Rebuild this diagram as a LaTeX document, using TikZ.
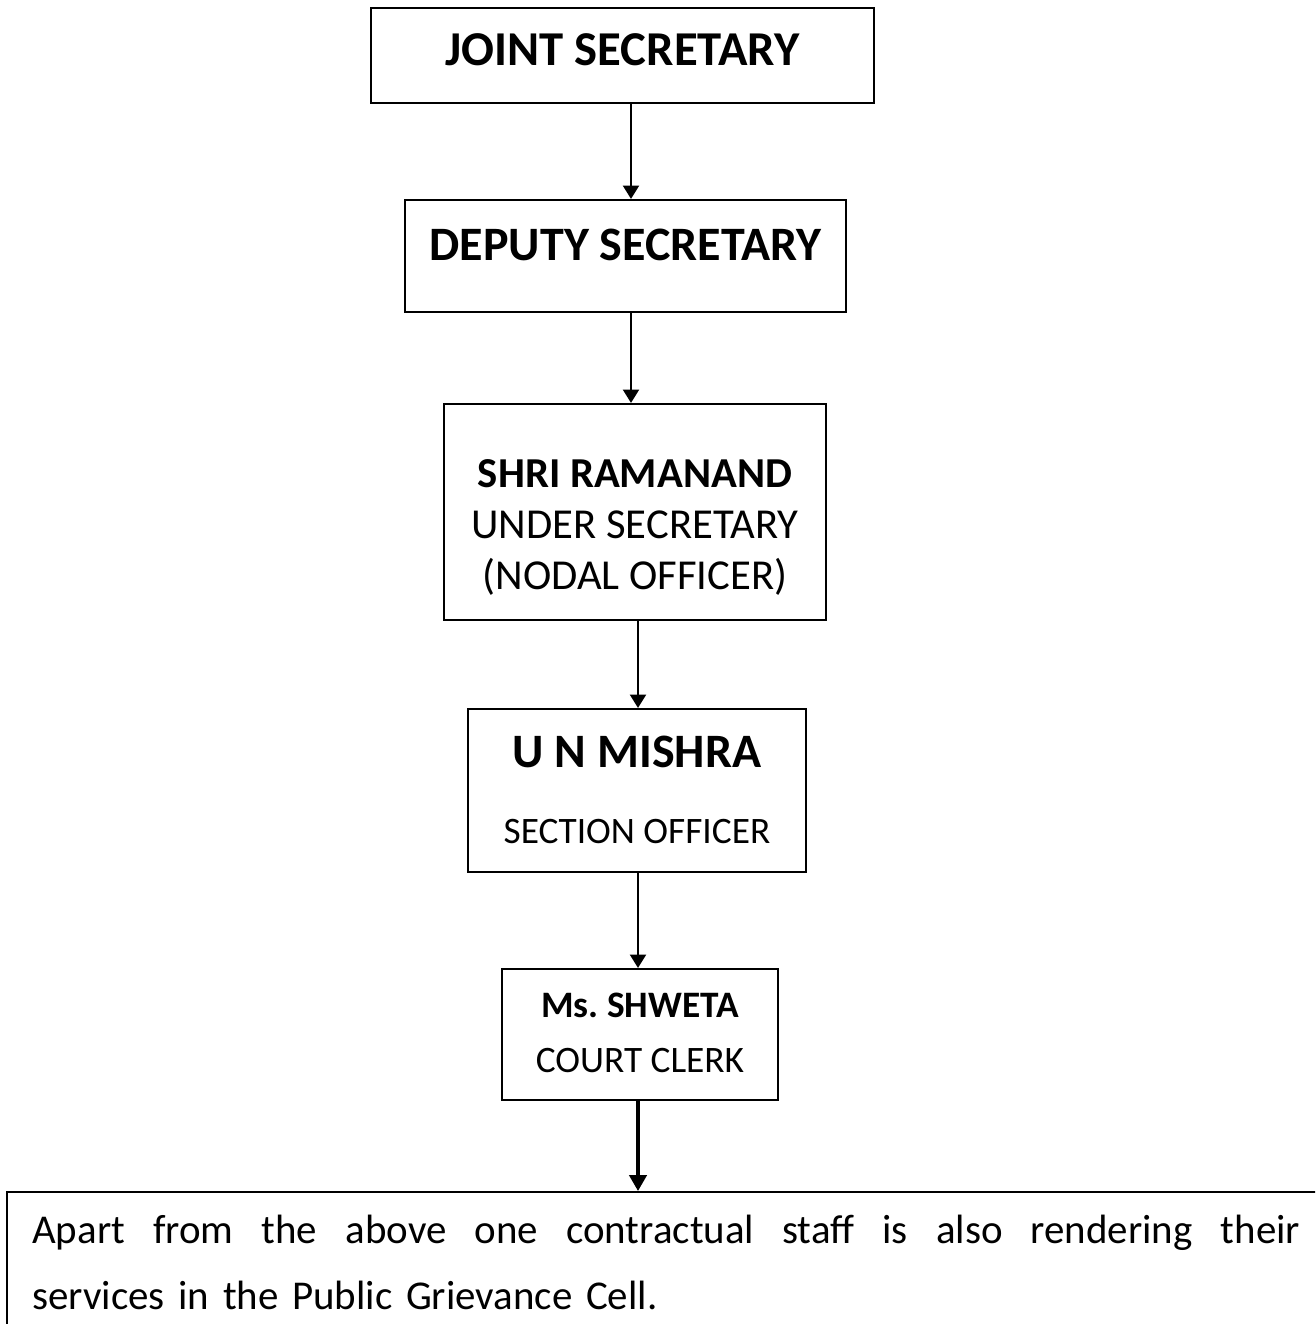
\documentclass[tikz,border=0pt]{standalone}
\usepackage{fontspec}
\setmainfont{Carlito}
\usetikzlibrary{arrows.meta}
\tikzset{
  orgbox/.style={draw, line width=1.6pt, inner xsep=0pt, inner ysep=0pt, align=center},
  conn/.style={line width=1.5pt, -{Triangle[width=12pt,length=10pt]}},
  thickconn/.style={line width=2.6pt, -{Triangle[width=13pt,length=12pt]}}
}
\begin{document}
\begin{tikzpicture}[x=0.75pt,y=-0.75pt]
\useasboundingbox (0,0) rectangle (1315,1324);
\fill[white] (0,0) rectangle (1315,1324);
\clip (0,0) rectangle (1315,1324);

\node[orgbox, minimum width=377.25pt, minimum height=71.25pt, text height=42.75pt, text depth=28.5pt,
      font=\fontsize{36.5}{40}\selectfont\bfseries] (js) at (622.5,55.5) {JOINT SECRETARY};
\node[orgbox, minimum width=330.75pt, minimum height=84pt, text height=45pt, text depth=39pt,
      font=\fontsize{36}{40}\selectfont\bfseries] (ds) at (625.5,256) {DEPUTY SECRETARY};
\node[orgbox, minimum width=286.5pt, minimum height=162pt, text height=138.75pt, text depth=23.25pt,
      font=\fontsize{32}{38.25}\selectfont] (us) at (635,512)
      {\textbf{SHRI RAMANAND}\\UNDER SECRETARY\\(NODAL OFFICER)};
\node[orgbox, minimum width=253.5pt, minimum height=122.25pt, text height=100.5pt, text depth=21.75pt,
      font=\fontsize{28}{57}\selectfont] (so) at (637,790.5)
      {{\fontsize{36}{57}\selectfont\bfseries U N MISHRA}\\SECTION OFFICER};
\node[orgbox, minimum width=207pt, minimum height=98.25pt, text height=77.25pt, text depth=21pt,
      font=\fontsize{28}{41}\selectfont] (cc) at (640,1034.5)
      {\textbf{Ms.\ SHWETA}\\COURT CLERK};

\node[draw, line width=1.6pt, anchor=north west, minimum width=1100pt, minimum height=200pt, inner sep=0pt]
      (frame) at (6,1191) {};
\node[anchor=base west, inner sep=0pt, text width=951pt, align=left,
      font=\fontsize{30.7}{50}\selectfont] (note) at (32,1243)
      {\hbox to 951pt{Apart\hfill from\hfill the\hfill above\hfill one\hfill contractual\hfill staff\hfill is\hfill also\hfill rendering\hfill their}\\
       services in the Public Grievance Cell.};

\coordinate (xa) at (631,0);
\coordinate (xb) at (638,0);
\draw[conn] (js.south -| xa) -- (ds.north -| xa);
\draw[conn] (ds.south -| xa) -- (us.north -| xa);
\draw[conn] (us.south -| xb) -- (so.north -| xb);
\draw[conn] (so.south -| xb) -- (cc.north -| xb);
\draw[thickconn] (cc.south -| xb) -- (frame.north -| xb);
\end{tikzpicture}
\end{document}
